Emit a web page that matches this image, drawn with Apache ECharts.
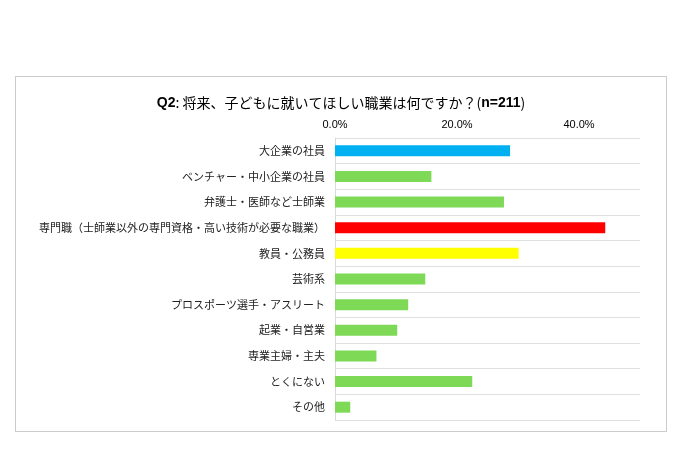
<!DOCTYPE html><html><head><meta charset="utf-8"><script src="https://cdn.jsdelivr.net/npm/echarts@6/dist/echarts.min.js"></script>
<style>body{margin:0;background:#fff}#f{position:absolute;left:15px;top:76px;width:652px;height:356px;border:1px solid #ccc;box-sizing:border-box}#c{width:685px;height:452px}</style></head><body><div id="f"></div><div id="c"></div><script>
const categories=["大企業の社員","ベンチャー・中小企業の社員","弁護士・医師など士師業","専門職（士師業以外の専門資格・高い技術が必要な職業）","教員・公務員","芸術系","プロスポーツ選手・アスリート","起業・自営業","専業主婦・主夫","とくにない","その他"];
const values=[28.7,15.8,27.7,44.3,30.1,14.8,12.0,10.2,6.8,22.5,2.5];
const colors=["#00b0f0","#7ed957","#7ed957","#ff0000","#ffff00","#7ed957","#7ed957","#7ed957","#7ed957","#7ed957","#7ed957"];
const ch=echarts.init(document.getElementById('c'));
ch.setOption({animation:false,
title:{text:"{b|Q2}: 将来、子どもに就いてほしい職業は何ですか？({b|n=211})",left:336,top:91,textAlign:'center',textStyle:{fontSize:14,fontWeight:'normal',color:'#000',fontFamily:'Noto Sans CJK JP',rich:{b:{fontSize:14,fontWeight:'bold',fontFamily:'Liberation Sans'}}}},
grid:{left:335,right:45,top:138,bottom:32},
xAxis:{type:'value',position:'top',min:0,max:50,interval:20,axisLine:{show:false},axisTick:{show:false},splitLine:{show:false},
axisLabel:{fontSize:11,color:'#000',fontFamily:'Liberation Sans',formatter:v=>v>45?'':v.toFixed(1)+'%'}},
yAxis:{type:'category',inverse:true,data:categories,axisLine:{lineStyle:{color:'#d9d9d9'}},axisTick:{show:false},
splitLine:{show:true,lineStyle:{color:'#e0e0e0'}},axisLabel:{fontSize:11,color:'#222',margin:10,fontFamily:'Noto Sans CJK JP'}},
series:[{type:'bar',barWidth:11,data:values.map((v,i)=>({value:v,itemStyle:{color:colors[i]}}))}]});
</script></body></html>
